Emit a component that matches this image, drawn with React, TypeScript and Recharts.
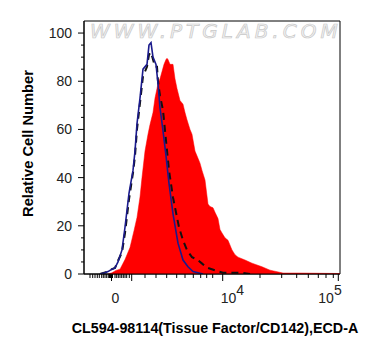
import { ComposedChart, Area, Line, XAxis, YAxis, ReferenceArea, Label } from 'recharts'

// channel positions (display units 0..256) and relative counts
const stainedX = [24, 28, 32, 36, 41, 46, 50, 53, 56, 58, 61, 64, 66, 69, 71, 74, 76, 78, 80, 82, 83, 84, 86, 88, 89, 91, 93, 96, 98, 99, 101, 103, 106, 108, 111, 114, 116, 118, 121, 124, 126, 129, 131, 134, 136, 138, 141, 144, 148, 151, 154, 161, 168, 178, 186, 199, 216, 236, 256]
const stainedY = [0, 0.5, 1.5, 2, 6, 11, 18, 23.5, 32, 40, 51, 58, 62, 67, 73, 79, 81, 84, 87, 89, 89.5, 89, 87, 87, 87, 81, 77, 72, 71, 70.5, 67, 64, 60, 58, 51, 48, 46, 43, 39, 29, 28, 27.5, 25.6, 23, 18.5, 17, 15, 14, 10, 8, 7, 5.8, 4.5, 3, 1.6, 0.4, 0.4, 0.3, 0.2]

const isotypeX = [16, 21, 24, 28, 31, 34, 38, 41, 45, 49, 51, 53, 56, 59, 63, 65, 67, 69, 72, 74, 76, 79, 82, 85, 89, 94, 99, 104, 109, 119]
const isotypeY = [0, 0.5, 1, 2, 2.5, 5, 10, 19.4, 33.5, 43, 51, 62.4, 73, 85, 87, 95, 96, 90, 87, 79, 69, 59.5, 49, 37.6, 25, 12.8, 5.8, 3, 1, 0]

const blankX = [16, 24, 28, 31, 34, 38, 41, 45, 49, 51, 53, 56, 59, 63, 65, 67, 69, 71, 73, 74, 76, 79, 82, 85, 89, 95, 99, 103, 108, 114, 119, 124, 131, 139, 146, 158, 166]
const blankY = [0, 1, 2, 2.5, 5.5, 9, 17, 31, 42, 49, 60, 71, 82, 86, 91, 92, 89, 86, 86, 80, 74, 68, 55.4, 43, 31.8, 19.4, 14, 9.9, 7, 5.8, 4, 2.5, 1.5, 0.5, 0.5, 0.5, 0]

const yTicks = [0, 5, 10, 15, 20, 25, 30, 35, 40, 45, 50, 55, 60, 65, 70, 75, 80, 85, 90, 95, 100]
const yLabelled = [0, 20, 40, 60, 80, 100]

const xMinorTicks = [6, 8.7, 11, 13.3, 15.3, 17.7, 19.3, 21, 22.7, 24.3, 25.5, 26.5, 28.5, 31, 32.7, 34.3, 36, 37.7, 39.3, 41, 42.7, 45.3, 61, 72, 82.7, 92.7, 101, 109.3, 116.7, 122.7, 128.7, 176, 197.7, 212.7, 224.3, 234.3, 242, 249.3]
const xMajorTicks = [27.5, 47.7, 138.7, 254.3]
const xLabels = [
  { at: 27.5, base: '0', exp: '' },
  { at: 138.7, base: '10', exp: '4' },
  { at: 254.3, base: '10', exp: '5' },
]

const zip = (xs: number[], ys: number[]) => xs.map((x, i) => ({ x, y: ys[i] }))
const stained = zip(stainedX, stainedY)
const isotype = zip(isotypeX, isotypeY)
const blank = zip(blankX, blankY)

const FONT = '"Liberation Sans", Arial, sans-serif'

function YTick({ x, y, payload }: any) {
  const v = payload.value
  const major = yLabelled.includes(v)
  return (
    <g>
      <line x1={x - (major ? 6 : 3)} x2={x} y1={y} y2={y} stroke="#000" />
      {major && (
        <text x={x - 12} y={y + 5} textAnchor="end" fontSize={14} fill="#222" fontFamily={FONT}>
          {v}
        </text>
      )}
    </g>
  )
}

function XTick({ x, y, payload }: any) {
  const v = payload.value
  const major = xMajorTicks.includes(v)
  const lbl = xLabels.find((l) => l.at === v)
  // the last decade label is pulled left so it stays inside the frame
  const last = lbl && lbl.at === xLabels[xLabels.length - 1].at
  return (
    <g>
      <line x1={x} x2={x} y1={y} y2={y + (major ? 7 : 4)} stroke="#000" />
      {lbl && lbl.exp === '' && (
        <text x={x + 4} y={y + 29} textAnchor="middle" fontSize={14} fill="#222" fontFamily={FONT}>
          {lbl.base}
        </text>
      )}
      {lbl && lbl.exp !== '' && (
        <text x={last ? x - 20 : x - 2} y={y + 29} textAnchor="start" fontSize={14} fill="#222" fontFamily={FONT}>
          {lbl.base}
          <tspan dy={-8}>{lbl.exp}</tspan>
        </text>
      )}
    </g>
  )
}

export default function App() {
  return (
    <div style={{ position: 'absolute', left: 0, top: 0, width: 374, height: 356, background: '#fff' }}>
      <ComposedChart width={374} height={356} margin={{ top: 21, right: 34, bottom: 0, left: 0 }}>
        <XAxis
          dataKey="x"
          type="number"
          domain={[0, 256]}
          ticks={[...xMinorTicks, ...xMajorTicks].sort((a, b) => a - b)}
          interval={0}
          tick={<XTick />}
          tickLine={false}
          tickSize={0}
          tickMargin={0}
          height={82}
          axisLine={{ stroke: '#000' }}
          allowDataOverflow
        >
          <Label
            content={({ viewBox }: any) => (
              <text
                x={viewBox.x + viewBox.width / 2 + 3}
                y={viewBox.y + 59}
                textAnchor="middle"
                fontSize={14.3}
                fontWeight="bold"
                fill="#000"
                fontFamily={FONT}
              >
                CL594-98114(Tissue Factor/CD142),ECD-A
              </text>
            )}
          />
        </XAxis>
        <YAxis
          type="number"
          domain={[0, 105]}
          ticks={yTicks}
          interval={0}
          tick={<YTick />}
          tickLine={false}
          tickSize={0}
          tickMargin={0}
          width={84}
          axisLine={{ stroke: '#000' }}
          allowDataOverflow
        >
          <Label
            content={({ viewBox }: any) => (
              <text
                x={33}
                y={viewBox.y + viewBox.height / 2 - 4}
                transform={`rotate(-90, 33, ${viewBox.y + viewBox.height / 2 - 4})`}
                textAnchor="middle"
                fontSize={14.7}
                fontWeight="bold"
                fill="#000"
                fontFamily={FONT}
              >
                Relative Cell Number
              </text>
            )}
          />
        </YAxis>
        <ReferenceArea x1={0} x2={256} y1={0} y2={105} fill="#fff" fillOpacity={0} stroke="#000" strokeWidth={1}>
          <Label
            content={({ viewBox }: any) => (
              <text
                x={viewBox.x + 6}
                y={viewBox.y + 17}
                fontSize={20}
                fontStyle="italic"
                letterSpacing={4}
                fill="#f2f2f2"
                stroke="#c8c8c8"
                strokeWidth={0.7}
                fontFamily='"DejaVu Sans", sans-serif'
              >
                WWW.PTGLAB.COM
              </text>
            )}
          />
        </ReferenceArea>
        <Area
          data={stained}
          dataKey="y"
          type="linear"
          fill="#ff0000"
          fillOpacity={1}
          stroke="#ff0000"
          strokeWidth={0.5}
          isAnimationActive={false}
        />
        <Line
          data={blank}
          dataKey="y"
          type="linear"
          stroke="#111"
          strokeWidth={2}
          strokeDasharray="7 5"
          dot={false}
          isAnimationActive={false}
        />
        <Line
          data={isotype}
          dataKey="y"
          type="linear"
          stroke="#1a1a8c"
          strokeWidth={1.6}
          dot={false}
          isAnimationActive={false}
        />
      </ComposedChart>
    </div>
  )
}
